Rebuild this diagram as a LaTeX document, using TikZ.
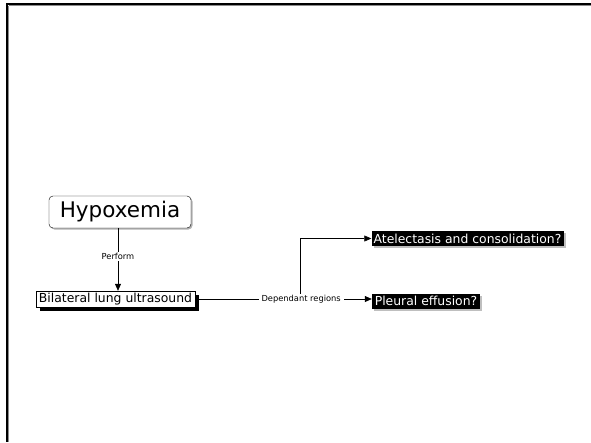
\documentclass[tikz,border=0pt]{standalone}
\usepackage{fontspec}
\setmainfont{DejaVu Sans}
\usetikzlibrary{arrows.meta,shadows}
\begin{document}
\begin{tikzpicture}[x=1pt,y=-1pt,
  lbl/.style={fill=white,font=\fontsize{8.3}{10}\selectfont,inner xsep=3pt,inner ysep=1pt},
  hypbox/.style={draw,rounded corners=4pt,fill=white,minimum width=142pt,minimum height=32pt,inner sep=0pt,font=\fontsize{21.5}{25}\selectfont,
    drop shadow={shadow xshift=1.5pt,shadow yshift=-1.5pt,fill=black!30,opacity=1}},
  bilbox/.style={draw,fill=white,minimum width=159pt,minimum height=16pt,inner sep=0pt,font=\fontsize{12.4}{14}\selectfont,
    drop shadow={shadow xshift=3.5pt,shadow yshift=-3.5pt,fill=black,opacity=1}},
  outbox/.style={fill=black,text=white,minimum height=15pt,inner sep=0pt,font=\fontsize{12.4}{14}\selectfont,
    drop shadow={shadow xshift=2pt,shadow yshift=-2pt,fill=black!25,opacity=1}},
  arr/.style={-{Triangle[length=7pt,width=6pt]},line width=0.6pt},
  ln/.style={line width=0.6pt}]
\useasboundingbox (0,0) rectangle (591,442);
\fill[white] (0,0) rectangle (591,442);
% frame
\draw[black!45,line width=1pt] (8.5,5.5) -- (591,5.5);
\draw[black!45,line width=1pt] (8.5,5.5) -- (8.5,442);
\draw[black,line width=2pt] (6,4) -- (591,4);
\draw[black,line width=2pt] (7,4) -- (7,442);
% nodes
\node[hypbox] (hyp) at (120,212) {Hypoxemia};
\node[bilbox] (bil) at (115.5,299) {Bilateral lung ultrasound};
\node[outbox,minimum width=192pt] (ate) at (467.5,238.5) {Atelectasis and consolidation?};
\node[outbox,minimum width=108pt] (ple) at (426,301) {Pleural effusion?};
\coordinate (br) at (300,299);
% connectors
\draw[arr] (hyp.south -| 118,0) -- node[lbl,pos=0.45]{Perform} (bil.north -| 118,0);
\draw[arr] (br) |- (ate.west);
\draw[arr] (bil.east) -- node[lbl,pos=0.6]{Dependant regions} (ple.west |- bil.east);
\end{tikzpicture}
\end{document}
